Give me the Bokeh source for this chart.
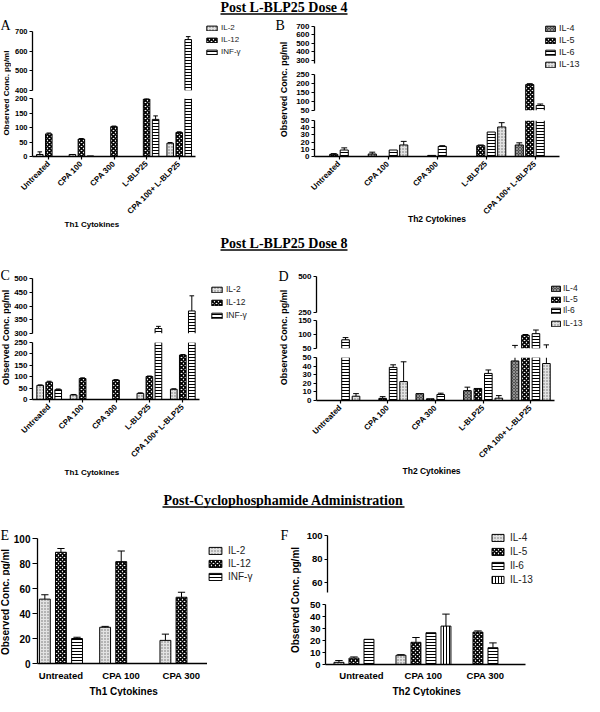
import math
from bokeh.plotting import figure
from bokeh.models import (Range1d, FixedTicker, Label, Legend, LegendItem, Title, Plot)
from bokeh.layouts import column, row
from bokeh.embed import file_html
from bokeh.resources import INLINE

# ---------------------------------------------------------------- data
groups5 = ["Untreated", "CPA 100", "CPA 300", "L-BLP25", "CPA 100+ L-BLP25"]
groups3 = ["Untreated", "CPA 100", "CPA 300"]

th1_names = ["IL-2", "IL-12", "INF-γ"]
th2_names_b = ["IL-4", "IL-5", "IL-6", "IL-13"]
th2_names_d = ["IL-4", "IL-5", "Il-6", "IL-13"]

titles = ["Post L-BLP25 Dose 4", "Post L-BLP25 Dose 8",
          "Post-Cyclophosphamide Administration"]
ylabel = "Observed Conc. pg/ml"
xtitle_th1 = "Th1 Cytokines"
xtitle_th2 = "Th2 Cytokines"

# Panel A  (Th1, dose 4)
a_il2 = [7, 7, 0, 0, 46]
a_il2_err = [9, 0, 0, 0, 2]
a_il12 = [78, 60, 103, 198, 83]
a_il12_err = [3, 2, 2, 2, 2]
a_inf = [0, 2, 0, 128, 659]
a_inf_err = [0, 0, 0, 12, 15]
a_ticks_up = [400, 500, 600, 700]
a_ticks_low = [0, 50, 100, 150, 200]

# Panel B  (Th2, dose 4)
b_il4 = [0, 3.5, 0, 0, 16]
b_il4_err = [0, 2.5, 0, 0, 3]
b_il5 = [3, 0, 1.5, 15, 194]
b_il5_err = [1, 0, 0, 1, 5]
b_il6 = [9, 9, 14, 34, 78]
b_il6_err = [3, 0, 1, 0, 8]
b_il13 = [0, 16, 0, 41, 0]
b_il13_err = [0, 5, 0, 6, 0]
b_ticks_top = [300, 400, 500, 600, 700]
b_ticks_mid = [50, 100, 150, 200, 250]
b_ticks_low = [0, 10, 20, 30, 40, 50]

# Panel C  (Th1, dose 8)
c_il2 = [62, 20, 0, 27, 45]
c_il2_err = [2, 2, 0, 2, 2]
c_il12 = [76, 92, 85, 101, 195]
c_il12_err = [4, 3, 2, 2, 2]
c_inf = [43, 0, 0, 318, 382]
c_inf_err = [3, 0, 0, 8, 55]
c_ticks_up = [300, 350, 400, 450, 500]
c_ticks_low = [0, 50, 100, 150, 200, 250]

# Panel D  (Th2, dose 8)
d_il4 = [0, 0, 8, 11.5, 46]
d_il4_err = [0, 0, 0, 4, 15]
d_il5 = [0, 2.5, 2, 14, 97]
d_il5_err = [0, 2, 0, 0, 3]
d_il6 = [81, 38.5, 7, 31.5, 103]
d_il6_err = [8, 3, 1.5, 4, 13]
d_il13 = [5, 22, 0, 2.7, 43]
d_il13_err = [3, 23, 0, 3, 20]
d_ticks_top = [250, 500]
d_ticks_mid = [50, 100, 150]
d_ticks_low = [0, 10, 20, 30, 40, 50]

# Panel E  (Th1, post-cyclophosphamide)
e_il2 = [51.5, 29, 18.5]
e_il2_err = [3.5, 0.7, 5]
e_il12 = [89, 81.5, 53]
e_il12_err = [3, 8.5, 4]
e_inf = [20, 0, 0]
e_inf_err = [1, 0, 0]
e_ticks = [0, 20, 40, 60, 80, 100]

# Panel F  (Th2, post-cyclophosphamide)
f_il4 = [1.8, 7.7, 0]
f_il4_err = [1.5, 0.5, 0]
f_il5 = [5.3, 18.5, 27]
f_il5_err = [1, 4, 1]
f_il6 = [21, 26.5, 14]
f_il6_err = [0, 0, 4]
f_il13 = [0, 32, 0]
f_il13_err = [0, 10, 0]
f_ticks_up = [60, 80, 100]
f_ticks_low = [0, 10, 20, 30, 40, 50]

# ---------------------------------------------------------------- styles
SANS = "Liberation Sans"
SERIF = "Liberation Serif"
FA = {"frame_align": False} if "frame_align" in Plot.properties() else {}
STYLE = {
    "light": dict(fill_color="#e2e2e2", hatch_pattern="dot", hatch_color="#6a6a6a",
                  hatch_scale=3.0, hatch_weight=1),
    "checker": dict(fill_color="white", hatch_pattern="diagonal_cross", hatch_color="black",
                    hatch_scale=4.0, hatch_weight=1.6),
    "dark": dict(fill_color="#4f4f4f", hatch_pattern="diagonal_cross", hatch_color="#a0a0a0",
                 hatch_scale=3.0, hatch_weight=0.8),
    "hline": dict(fill_color="white", hatch_pattern="horizontal_line", hatch_color="black",
                  hatch_scale=3.0, hatch_weight=1),
    "vline": dict(fill_color="white", hatch_pattern="vertical_line", hatch_color="black",
                  hatch_scale=3.0, hatch_weight=1),
}


def style_axis(ax, fs, tick_out=3, standoff=2):
    ax.axis_line_color = "black"
    ax.axis_line_width = 1.3
    ax.major_tick_line_color = "black"
    ax.major_tick_line_width = 1.2
    ax.major_tick_in = 0
    ax.major_tick_out = tick_out
    ax.minor_tick_line_color = None
    ax.major_label_standoff = standoff
    ax.major_label_text_font = SANS
    ax.major_label_text_font_style = "bold"
    ax.major_label_text_font_size = f"{fs}px"
    ax.major_label_text_color = "black"


def text_fig(w, h):
    p = figure(width=w, height=h, x_range=Range1d(0, w), y_range=Range1d(0, h),
               x_axis_location=None, y_axis_location=None,
               output_backend="svg", toolbar_location=None,
               min_border=0, min_border_left=0, min_border_right=0,
               min_border_top=0, min_border_bottom=0, **FA)
    p.outline_line_color = None
    p.xgrid.visible = False
    p.ygrid.visible = False
    return p


def draw_series(p, vals, errs, off, width, capw, style, y0, y1):
    """Bars (fill) plus outline/whisker segments, limited to this axis segment."""
    fx, fb, ft = [], [], []
    sx0, sy0, sx1, sy1 = [], [], [], []
    for i, v in enumerate(vals):
        x = i + off
        if v > 0 and v > y0:
            lo, hi = max(0, y0), min(v, y1)
            fx.append(x); fb.append(lo); ft.append(hi)
            for xe in (x - width / 2, x + width / 2):
                sx0.append(xe); sy0.append(lo); sx1.append(xe); sy1.append(hi)
            if v <= y1:
                sx0.append(x - width / 2); sy0.append(v)
                sx1.append(x + width / 2); sy1.append(v)
        e = errs[i]
        if e > 0:
            lo, hi = max(v, y0), min(v + e, y1)
            if lo < hi:
                sx0.append(x); sy0.append(lo); sx1.append(x); sy1.append(hi)
            if y0 <= v + e <= y1:
                sx0.append(x - capw); sy0.append(v + e)
                sx1.append(x + capw); sy1.append(v + e)
    p.vbar(x=fx, bottom=fb, top=ft, width=width, line_color=None, **STYLE[style])
    p.segment(x0=sx0, y0=sy0, x1=sx1, y1=sy1, line_color="black", line_width=1)


def seg_plot(pan, w, h, lb, rb, tb, bb, y0, y1, ticks, xaxis=False):
    fw = w - lb - rb
    p = figure(width=w, height=h,
               x_range=Range1d(pan["xs"], pan["xs"] + fw / pan["u"]),
               y_range=Range1d(y0, y1),
               x_axis_location="below" if xaxis else None, y_axis_location="left",
               output_backend="svg", toolbar_location=None,
               min_border_left=lb, min_border_right=rb,
               min_border_top=tb, min_border_bottom=bb, **FA)
    p.outline_line_color = None
    p.xgrid.visible = False
    p.ygrid.visible = False
    ya = p.yaxis[0]
    ya.ticker = FixedTicker(ticks=ticks)
    style_axis(ya, pan["ytick_fs"], tick_out=pan["ytick_out"])
    if xaxis:
        xa = p.xaxis[0]
        xa.ticker = FixedTicker(ticks=list(range(len(pan["cats"]))))
        xa.major_label_overrides = {i: c for i, c in enumerate(pan["cats"])}
        style_axis(xa, pan["xtick_fs"], tick_out=pan["xtick_out"], standoff=pan["xstandoff"])
        if pan["rotate"]:
            xa.major_label_orientation = math.pi / 4
        if pan["xt_mode"] == "axis":
            xa.axis_label = pan["xtitle"]
            xa.axis_label_standoff = pan["xt_standoff"]
            xa.axis_label_text_font = SANS
            xa.axis_label_text_font_style = "bold"
            xa.axis_label_text_font_size = f'{pan["xt_fs"]}px'
            xa.axis_label_text_color = "black"
        else:
            p.add_layout(Title(text=pan["xtitle"], align="left", offset=pan["xt_off"],
                               standoff=pan["xt_standoff"], text_font=SANS,
                               text_font_style="bold", text_font_size=f'{pan["xt_fs"]}px',
                               text_color="black"), "below")
    for (vals, errs, st), off in zip(pan["series"], pan["offsets"]):
        draw_series(p, vals, errs, off, pan["width"], pan["capw"], st, y0, y1)
    return p


def legend_fig(w, h, names, styles, vx, vy, fs, gw, gh, spacing, standoff=3):
    p = text_fig(w, h)
    # proxy glyphs for the legend swatches, parked far outside the visible area
    rs = [p.rect(x=[-500], y=[-500], width=1, height=1, line_color="black", line_width=1,
                 **STYLE[s]) for s in styles]
    leg = Legend(items=[LegendItem(label=n, renderers=[r]) for n, r in zip(names, rs)],
                 location=(vx, vy), orientation="vertical", padding=0, margin=0,
                 spacing=spacing, glyph_width=gw, glyph_height=gh, label_height=gh,
                 label_width=10, label_standoff=standoff,
                 border_line_color=None, background_fill_alpha=0,
                 label_text_font=SANS, label_text_font_size=f"{fs}px",
                 label_text_color="#222222")
    p.add_layout(leg)
    return p


def strip(w, h, letter, lx, ly, lab_x, lab_y, lab_fs):
    p = text_fig(w, h)
    p.add_layout(Label(x=lx, y=ly, text=letter, text_font=SERIF, text_font_size="14px",
                       text_align="left", text_baseline="top", text_color="black"))
    p.add_layout(Label(x=lab_x, y=lab_y, text=ylabel, angle=math.pi / 2,
                       text_font=SANS, text_font_style="bold", text_font_size=f"{lab_fs}px",
                       text_align="center", text_baseline="middle", text_color="black"))
    return p


def title_fig(w, h, text, cx, cy, ux0, ux1, uy):
    p = text_fig(w, h)
    p.add_layout(Label(x=cx, y=cy, text=text, text_font=SERIF, text_font_style="bold",
                       text_font_size="14px", text_align="center", text_baseline="middle",
                       text_color="black"))
    p.segment(x0=[ux0], y0=[uy], x1=[ux1], y1=[uy], line_color="black", line_width=1.3)
    return p


# ---------------------------------------------------------------- panel specs
PA = dict(cats=groups5, xs=-0.5, u=32.6,
          series=[(a_il2, a_il2_err, "light"), (a_il12, a_il12_err, "checker"),
                  (a_inf, a_inf_err, "hline")],
          offsets=[-0.276, 0, 0.276], width=0.2, capw=0.07,
          ytick_fs=7.5, ytick_out=3, xtick_fs=8, xtick_out=3, xstandoff=3, rotate=True,
          xtitle=xtitle_th1, xt_mode="title", xt_off=32, xt_standoff=-10, xt_fs=8)
PB = dict(cats=groups5, xs=-0.5, u=49.0,
          series=[(b_il4, b_il4_err, "dark"), (b_il5, b_il5_err, "checker"),
                  (b_il6, b_il6_err, "hline"), (b_il13, b_il13_err, "light")],
          offsets=[-0.321, -0.107, 0.107, 0.321], width=0.165, capw=0.06,
          ytick_fs=8, ytick_out=3, xtick_fs=8, xtick_out=3, xstandoff=3, rotate=True,
          xtitle=xtitle_th2, xt_mode="axis", xt_off=88, xt_standoff=-8, xt_fs=8.5)
PC = dict(cats=groups5, xs=-0.5, u=33.4,
          series=[(c_il2, c_il2_err, "light"), (c_il12, c_il12_err, "checker"),
                  (c_inf, c_inf_err, "hline")],
          offsets=[-0.27, 0, 0.27], width=0.2, capw=0.07,
          ytick_fs=8, ytick_out=3, xtick_fs=8, xtick_out=3, xstandoff=3, rotate=True,
          xtitle=xtitle_th1, xt_mode="title", xt_off=32, xt_standoff=-22, xt_fs=8)
PD = dict(cats=groups5, xs=-0.5, u=47.6,
          series=[(d_il4, d_il4_err, "dark"), (d_il5, d_il5_err, "checker"),
                  (d_il6, d_il6_err, "hline"), (d_il13, d_il13_err, "light")],
          offsets=[-0.33, -0.11, 0.11, 0.33], width=0.16, capw=0.06,
          ytick_fs=8, ytick_out=3, xtick_fs=8, xtick_out=3, xstandoff=3, rotate=True,
          xtitle=xtitle_th2, xt_mode="title", xt_off=86, xt_standoff=-19, xt_fs=8.5)
PE = dict(cats=groups3, xs=-0.389, u=61.7,
          series=[(e_il2, e_il2_err, "light"), (e_il12, e_il12_err, "checker"),
                  (e_inf, e_inf_err, "hline")],
          offsets=[-0.267, 0, 0.267], width=0.18, capw=0.06,
          ytick_fs=10, ytick_out=5, xtick_fs=9.5, xtick_out=0, xstandoff=6, rotate=False,
          xtitle=xtitle_th1, xt_mode="title", xt_off=52, xt_standoff=0, xt_fs=10)
PF = dict(cats=groups3, xs=-0.58, u=62.0,
          series=[(f_il4, f_il4_err, "light"), (f_il5, f_il5_err, "checker"),
                  (f_il6, f_il6_err, "hline"), (f_il13, f_il13_err, "vline")],
          offsets=[-0.363, -0.121, 0.121, 0.363], width=0.16, capw=0.06,
          ytick_fs=9.5, ytick_out=3, xtick_fs=9.5, xtick_out=0, xstandoff=5, rotate=False,
          xtitle=xtitle_th2, xt_mode="title", xt_off=67, xt_standoff=0, xt_fs=10)

# ---------------------------------------------------------------- panel A
a_up = seg_plot(PA, 189, 78, 21, 5, 15, 4, 400, 700, a_ticks_up)
a_leg = legend_fig(75, 78, th1_names, ["light", "checker", "hline"], 5, 38, 8, 13, 6, 3)
a_low = seg_plot(PA, 264, 140, 21, 80, 4, 78, 0, 200, a_ticks_low, xaxis=True)
panel_a = row(strip(11, 218, "A", 0, 217, 5.5, 141.5, 8),
              column(row(a_up, a_leg), a_low))

# ---------------------------------------------------------------- panel B
b_top = seg_plot(PB, 250, 54, 24, 2, 10, 7, 260, 700, b_ticks_top)
b_leg = legend_fig(44, 54, th2_names_b, ["dark", "checker", "hline", "light"],
                   4, 1, 9, 12, 7, 2)
b_mid = seg_plot(PB, 294, 44, 24, 25, 4, 4, 50, 250, b_ticks_mid)
b_low = seg_plot(PB, 294, 120, 24, 25, 6, 78, 0, 50, b_ticks_low, xaxis=True)
panel_b = row(strip(15, 218, "B", 0, 217, 8, 145, 9),
              column(row(b_top, b_leg), b_mid, b_low))

# ---------------------------------------------------------------- panel C
c_up = seg_plot(PC, 193, 77, 21, 5, 18, 4, 300, 500, c_ticks_up)
c_leg = legend_fig(71, 77, th1_names, ["light", "checker", "hline"], 6, 17, 8.5, 13, 7, 3)
c_low = seg_plot(PC, 264, 140, 21, 76, 5, 78, 0, 250, c_ticks_low, xaxis=True)
panel_c = row(strip(11, 217, "C", 0, 210, 5.5, 140, 9),
              column(row(c_up, c_leg), c_low))

# ---------------------------------------------------------------- panel D
d_top = seg_plot(PD, 259, 56, 26, 0, 16, 4, 248, 500, d_ticks_top)
d_leg1 = legend_fig(35, 56, th2_names_d[:3], ["dark", "checker", "hline"],
                    1, 1, 8.5, 11, 7, 1, 2)
d_mid = seg_plot(PD, 259, 36, 26, 0, 4, 4, 50, 150, d_ticks_mid)
d_leg2 = legend_fig(35, 36, th2_names_d[3:], ["light"], 1, 24, 8.5, 11, 7, 1, 2)
d_low = seg_plot(PD, 294, 125, 26, 30, 5, 77, 0, 50, d_ticks_low, xaxis=True)
panel_d = row(strip(15, 217, "D", 3, 209, 8, 140, 9),
              column(row(d_top, d_leg1), row(d_mid, d_leg2), d_low))

# ---------------------------------------------------------------- panel E
e_plot = seg_plot(PE, 197, 179, 23, 0, 21, 30, 0, 100, e_ticks, xaxis=True)
e_leg = legend_fig(68, 179, th1_names, ["light", "checker", "hline"], 0, 114, 10, 16, 9, 2, 5)
panel_e = row(strip(10, 179, "E", 0, 169, 5, 94.5, 10), e_plot, e_leg)

# ---------------------------------------------------------------- panel F
f_up = seg_plot(PF, 186, 81, 22, 2, 18, 6, 51.5, 100, f_ticks_up)
f_leg = legend_fig(95, 81, th2_names_d, ["light", "checker", "hline", "vline"],
                   1, 13, 10, 15, 9, 3, 5)
f_low = seg_plot(PF, 281, 98, 22, 59, 6, 27, 0, 50, f_ticks_low, xaxis=True)
panel_f = row(strip(28, 179, "F", 5, 169, 20, 96.5, 10),
              column(row(f_up, f_leg), f_low))

# ---------------------------------------------------------------- titles and page
t1 = title_fig(584, 16, titles[0], 283.5, 9, 220, 347, 2.5)
t2 = title_fig(584, 26, titles[1], 283.5, 17.5, 220, 347, 10.5)
t3 = title_fig(584, 40, titles[2], 283, 17, 162, 404, 10.5)

page = column(
    t1,
    row(panel_a, panel_b),
    t2,
    row(panel_c, panel_d),
    t3,
    row(panel_e, panel_f),
)

open("out.html", "w").write(file_html(page, INLINE))
